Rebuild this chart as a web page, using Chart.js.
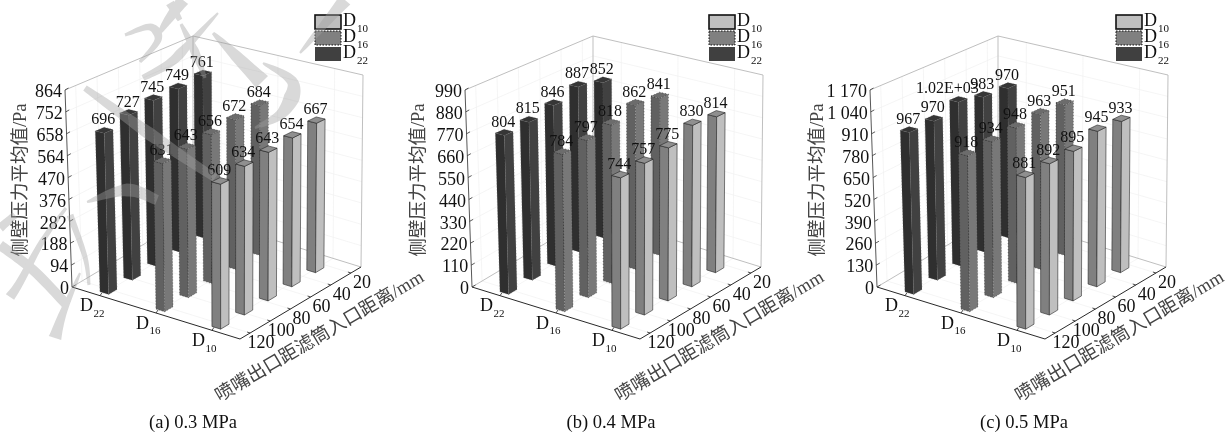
<!DOCTYPE html>
<html><head><meta charset="utf-8">
<script src="https://cdn.jsdelivr.net/npm/chart.js@4"></script>
<style>
html,body{margin:0;padding:0;background:#fff;width:1226px;height:434px;overflow:hidden}
canvas{position:absolute;left:0;top:0}
</style></head><body>
<canvas id="a" width="1226" height="434"></canvas>
<canvas id="b" width="1226" height="434"></canvas>
<canvas id="c" width="1226" height="434"></canvas>
<script>
// ---------- data ----------
const seriesNames = ['D10', 'D16', 'D22'];
const barColumns = [120, 100, 80, 60, 40];
const distanceTicks = ['120', '100', '80', '60', '40', '20'];
const rowTicks = ['22', '16', '10'];

const a_D10 = [609, 634, 643, 654, 667];
const a_D16 = [631, 643, 656, 672, 684];
const a_D22 = [696, 727, 745, 749, 761];
const a_ticks = [0, 94, 188, 282, 376, 470, 564, 658, 752, 846];
const a_tickLabels = ['0', '94', '188', '282', '376', '470', '564', '658', '752', '864'];

const b_D10 = [744, 757, 775, 830, 814];
const b_D16 = [784, 797, 818, 862, 841];
const b_D22 = [804, 815, 846, 887, 852];
const b_ticks = [0, 110, 220, 330, 440, 550, 660, 770, 880, 990];
const b_tickLabels = ['0', '110', '220', '330', '440', '550', '660', '770', '880', '990'];

const c_D10 = [881, 892, 895, 945, 933];
const c_D16 = [918, 934, 948, 963, 951];
const c_D22 = [967, 970, 1020, 983, 970];
const c_labelOverride = {1020: {text: '1.02E+03', dx: -10}};
const c_ticks = [0, 130, 260, 390, 520, 650, 780, 910, 1040, 1170];
const c_tickLabels = ['0', '130', '260', '390', '520', '650', '780', '910', '1 040', '1 170'];

const yTitle = '侧壁压力平均值/Pa';
const xTitle = '喷嘴出口距滤筒入口距离/mm';

// ---------- scene configuration ----------
const SERIF = '"Liberation Serif","Noto Sans CJK SC"';
const CORNERS = { // [floor, ceiling] of the 3D box, for panel (a)
  L: [[72, 287], [65, 90]],
  F: [[240, 339], [241, 136]],
  R: [[361, 267], [363, 75]],
  B: [[193, 215], [193, 36]]
};
const BAR_DROP = {L: 2, F: 0, R: 3, B: 5}; // perspective correction of bar tops
const ROW_U = {D22: 1 / 6, D16: 1 / 2, D10: 5 / 6};
const COL_V0 = 0.07, COL_DV = 0.196, BAR_DU = 0.052, BAR_DV = 0.069;
const STYLE = {
  D10: {left: '#808080', right: '#bfbfbf', top: '#8f8f8f', edge: 'rgba(30,30,30,.8)', dash: [], legend: '#bfbfbf', lw: 1.6, elw: .7},
  D16: {left: '#616161', right: '#787878', top: '#6c6c6c', edge: 'rgba(20,20,20,.75)', dash: [1, 2], legend: '#808080', lw: 1, elw: .6},
  D22: {left: '#2f2f2f', right: '#414141', top: '#363636', edge: 'rgba(90,90,90,.7)', dash: [1, 2], legend: '#404040', lw: 0, elw: .6}
};
const WATERMARK = [
  [[[170, 3], [180, 20]], 9, 5],
  [[[183, 0], [168, 20], [160, 32]], 13, 4],
  [[[125, 35], [150, 27], [158, 40], [140, 62]], 3, 3, 9],
  [[[218, 13], [190, 43], [170, 63], [143, 78]], 2, 6, 10],
  [[[181, 24], [195, 52], [205, 78]], 3, 3, 9],
  [[[85, 88], [130, 120], [170, 148], [215, 178]], 6, 8, 13],
  [[[213, 33], [235, 55], [262, 82]], 3, 17, 11],
  [[[263, 63], [293, 83], [283, 112], [255, 128]], 2, 2, 16],
  [[[345, 0], [300, 53]], 14, 2],
  [[[87, 202], [127, 190], [157, 200]], 2, 10, 13],
  [[[0, 245], [33, 270], [67, 305]], 10, 10],
  [[[0, 228], [15, 215]], 9, 7],
  [[[70, 215], [85, 257], [89, 285]], 7, 3],
  [[[66, 208], [43, 240], [20, 282], [10, 297]], 3, 10, 7],
  [[[80, 273], [63, 313], [55, 338]], 2, 13]
];

function lerp(p, q, t) { return [p[0] + (q[0] - p[0]) * t, p[1] + (q[1] - p[1]) * t]; }
function num(a, b, t) { return a + (b - a) * t; }
function project(u, v, w) {
  const floor = lerp(lerp(CORNERS.L[0], CORNERS.F[0], u), lerp(CORNERS.B[0], CORNERS.R[0], u), v);
  const ceil = lerp(lerp(CORNERS.L[1], CORNERS.F[1], u), lerp(CORNERS.B[1], CORNERS.R[1], u), v);
  return lerp(floor, ceil, w);
}
function barPoint(u, v, w) {
  const p = project(u, v, w);
  const d = num(num(BAR_DROP.L, BAR_DROP.F, u), num(BAR_DROP.B, BAR_DROP.R, u), v);
  return [p[0], p[1] + d * w];
}

function face(ctx, pts, fill, st) {
  ctx.beginPath();
  pts.forEach((p, i) => i ? ctx.lineTo(p[0], p[1]) : ctx.moveTo(p[0], p[1]));
  ctx.closePath();
  ctx.fillStyle = fill;
  ctx.fill();
  ctx.strokeStyle = st.edge;
  ctx.lineWidth = st.elw;
  ctx.setLineDash(st.dash);
  ctx.stroke();
  ctx.setLineDash([]);
}

function seg(ctx, p, q, color, lw) {
  ctx.beginPath();
  ctx.moveTo(p[0], p[1]);
  ctx.lineTo(q[0], q[1]);
  ctx.strokeStyle = color;
  ctx.lineWidth = lw;
  ctx.stroke();
}

function drawSub(ctx, x, y, main, sub, size, subSize, dx, dy) {
  ctx.textAlign = 'left';
  ctx.textBaseline = 'middle';
  ctx.fillStyle = '#111';
  ctx.font = size + 'px ' + SERIF;
  ctx.fillText(main, x, y);
  ctx.font = subSize + 'px ' + SERIF;
  ctx.fillText(sub, x + dx, y + dy);
}

function catmull(pts, i, t) {
  const p0 = pts[Math.max(i - 1, 0)], p1 = pts[i], p2 = pts[i + 1], p3 = pts[Math.min(i + 2, pts.length - 1)];
  const f = k => 0.5 * (2 * p1[k] + (p2[k] - p0[k]) * t + (2 * p0[k] - 5 * p1[k] + 4 * p2[k] - p3[k]) * t * t + (3 * p1[k] - p0[k] - 3 * p2[k] + p3[k]) * t * t * t);
  return [f(0), f(1)];
}

function drawWatermark(ctx) {
  const off = document.createElement('canvas');
  off.width = 1226; off.height = 434;
  const o = off.getContext('2d');
  o.fillStyle = '#a0a0a0';
  WATERMARK.forEach(s => {
    const pts = s[0], w0 = s[1], wEnd = s[2], wMid = s.length === 4 ? s[3] : (s[1] + s[2]) / 2;
    const n = pts.length;
    const left = [], right = [];
    const samples = [];
    for (let i = 0; i < n - 1; i++) {
      for (let k = 0; k < 12; k++) samples.push(catmull(pts, i, k / 12));
    }
    samples.push(pts[n - 1]);
    samples.forEach((p, i) => {
      const a = samples[Math.max(i - 1, 0)], b = samples[Math.min(i + 1, samples.length - 1)];
      const dx = b[0] - a[0], dy = b[1] - a[1], L = Math.hypot(dx, dy) || 1;
      const t = i / (samples.length - 1);
      const w = (t < .5 ? w0 + (wMid - w0) * t * 2 : wMid + (wEnd - wMid) * (t - .5) * 2) / 2;
      left.push([p[0] - dy / L * w, p[1] + dx / L * w]);
      right.push([p[0] + dy / L * w, p[1] - dx / L * w]);
    });
    o.beginPath();
    left.concat(right.reverse()).forEach((p, i) => i ? o.lineTo(p[0], p[1]) : o.moveTo(p[0], p[1]));
    o.closePath();
    o.fill();
  });
  ctx.save();
  ctx.globalAlpha = 0.4;
  ctx.drawImage(off, 0, 0);
  ctx.restore();
}

const scene3d = {
  id: 'scene3d',
  afterDatasetsDraw(chart, args, opts) {
    const ctx = chart.ctx, vs = chart.scales.y;
    const toW = val => (val - vs.min) / (vs.max - vs.min);
    ctx.save();
    ctx.translate(opts.shift, 0);
    const P = project;

    // back walls and grid
    const faint = '#f1f1f1', box = '#b8b8b8';
    opts.ticks.forEach(t => {
      const w = toW(t);
      if (w > 0 && w < 1) {
        seg(ctx, P(0, 0, w), P(0, 1, w), faint, 0.7);
        seg(ctx, P(0, 1, w), P(1, 1, w), faint, 0.7);
      }
    });
    distanceTicks.forEach((_, i) => {
      const v = (i + .5) / distanceTicks.length;
      seg(ctx, P(0, v, 0), P(1, v, 0), faint, 0.7);
      seg(ctx, P(0, v, 0), P(0, v, 1), faint, 0.7);
    });
    rowTicks.forEach((_, i) => {
      const u = (i + .5) / rowTicks.length;
      seg(ctx, P(u, 0, 0), P(u, 1, 0), faint, 0.7);
      seg(ctx, P(u, 1, 0), P(u, 1, 1), faint, 0.7);
    });
    seg(ctx, P(0, 0, 1), P(0, 1, 1), box, 0.9);
    seg(ctx, P(0, 1, 1), P(1, 1, 1), box, 0.9);
    seg(ctx, P(0, 1, 0), P(0, 1, 1), box, 0.9);
    seg(ctx, P(1, 1, 0), P(1, 1, 1), box, 0.9);
    seg(ctx, P(0, 0, 0), P(0, 1, 0), box, 0.9);
    seg(ctx, P(0, 1, 0), P(1, 1, 0), box, 0.9);

    // axes
    seg(ctx, P(0, 0, 0), P(0, 0, 1), '#444', 0.9);
    seg(ctx, P(0, 0, 0), P(1, 0, 0), '#111', 0.9);
    seg(ctx, P(1, 0, 0), P(1, 1, 0), '#111', 0.9);

    // value axis ticks and labels
    ctx.font = '18px ' + SERIF;
    ctx.textAlign = 'right';
    ctx.textBaseline = 'middle';
    opts.ticks.forEach((t, i) => {
      const p = P(0, 0, toW(t));
      seg(ctx, p, [p[0] + 3.5, p[1] - 2], '#333', 0.8);
      ctx.fillStyle = '#111';
      ctx.fillText(opts.tickLabels[i], p[0] - 3, p[1] + 2.5);
    });

    // row axis
    rowTicks.forEach((r, i) => {
      const p = P((i + .5) / rowTicks.length, 0, 0);
      seg(ctx, p, [p[0] + 2, p[1] - 3], '#222', 0.8);
      drawSub(ctx, p[0] - 20, p[1] + 11, 'D', r, 18, 11, 13.5, 7.5);
    });

    // distance axis
    ctx.font = '18px ' + SERIF;
    ctx.textBaseline = 'middle';
    distanceTicks.forEach((d, i) => {
      const p = P(1, (i + .5) / distanceTicks.length, 0);
      seg(ctx, p, [p[0] - 3, p[1] - 1], '#222', 0.8);
      ctx.textAlign = 'center';
      ctx.fillStyle = '#111';
      ctx.fillText(d, p[0] + 11, p[1] + 10);
    });

    // bars, painted back to front
    const items = [];
    chart.data.datasets.forEach((ds, di) => {
      const meta = chart.getDatasetMeta(di);
      meta.data.forEach((_, i) => {
        const val = meta.controller.getParsed(i).y;
        const u = ROW_U[ds.label], v = COL_V0 + COL_DV * i;
        items.push({name: ds.label, u, v, val, depth: u - v});
      });
    });
    items.sort((p, q) => p.depth - q.depth);
    const Q = barPoint;
    items.forEach(b => {
      const st = STYLE[b.name], w = toW(b.val);
      const u0 = b.u - BAR_DU / 2, u1 = b.u + BAR_DU / 2, v0 = b.v - BAR_DV / 2, v1 = b.v + BAR_DV / 2;
      face(ctx, [Q(u0, v0, 0), Q(u1, v0, 0), Q(u1, v0, w), Q(u0, v0, w)], st.left, st);
      face(ctx, [Q(u1, v0, 0), Q(u1, v1, 0), Q(u1, v1, w), Q(u1, v0, w)], st.right, st);
      face(ctx, [Q(u0, v0, w), Q(u1, v0, w), Q(u1, v1, w), Q(u0, v1, w)], st.top, st);
    });

    // value labels
    ctx.font = '16px ' + SERIF;
    ctx.textAlign = 'center';
    ctx.textBaseline = 'middle';
    ctx.fillStyle = '#111';
    items.forEach(b => {
      const p = Q(b.u, b.v, toW(b.val));
      const o = opts.labelOverride && opts.labelOverride[b.val];
      ctx.fillText(o ? o.text : String(b.val), p[0] - 1 + (o ? o.dx : 0), p[1] - 10);
    });

    // legend
    const lx = opts.legendX;
    seriesNames.forEach((n, i) => {
      const st = STYLE[n], y = 15 + i * 16;
      ctx.fillStyle = st.legend;
      ctx.fillRect(lx, y, 26, 14);
      if (st.lw) {
        ctx.strokeStyle = '#111';
        ctx.lineWidth = st.lw;
        ctx.setLineDash(n === 'D16' ? [1.5, 1.5] : []);
        ctx.strokeRect(lx, y, 26, 14);
        ctx.setLineDash([]);
      }
      drawSub(ctx, lx + 28, y + 6, n[0], n.slice(1), 18, 11, 14, 8);
    });

    // axis titles
    ctx.fillStyle = '#444';
    ctx.textAlign = 'center';
    ctx.textBaseline = 'middle';
    ctx.font = '18.5px ' + SERIF;
    ctx.save();
    ctx.translate(opts.yTitleX, 180);
    ctx.rotate(-Math.PI / 2);
    ctx.fillText(yTitle, 0, 0);
    ctx.restore();
    ctx.save();
    ctx.translate(opts.xTitleX, 337);
    ctx.rotate(-30.6 * Math.PI / 180);
    ctx.font = '18.6px ' + SERIF;
    ctx.fillText(xTitle, 0, 0);
    ctx.restore();
    ctx.restore();

    // caption
    ctx.font = '18.5px ' + SERIF;
    ctx.fillStyle = '#111';
    ctx.textAlign = 'center';
    ctx.textBaseline = 'middle';
    ctx.fillText(opts.caption, opts.captionX, 423);

    if (opts.watermark) drawWatermark(ctx);
  }
};

function makeChart(id, d10, d16, d22, ticks, tickLabels, extra) {
  const clear = 'rgba(0,0,0,0)';
  return new Chart(document.getElementById(id), {
    type: 'bar',
    data: {
      labels: barColumns,
      datasets: [
        {label: seriesNames[0], data: d10, backgroundColor: clear},
        {label: seriesNames[1], data: d16, backgroundColor: clear},
        {label: seriesNames[2], data: d22, backgroundColor: clear}
      ]
    },
    options: {
      responsive: false,
      animation: false,
      events: [],
      scales: {
        x: {display: false},
        y: {
          display: false,
          min: ticks[0],
          max: ticks[ticks.length - 1],
          afterBuildTicks: s => { s.ticks = ticks.map(value => ({value})); }
        }
      },
      plugins: {
        legend: {display: false},
        tooltip: {enabled: false},
        title: {display: false},
        scene3d: Object.assign({ticks, tickLabels}, extra)
      }
    },
    plugins: [scene3d]
  });
}

makeChart('a', a_D10, a_D16, a_D22, a_ticks, a_tickLabels,
  {shift: 0, legendX: 315, yTitleX: 21, xTitleX: 320, caption: '(a) 0.3 MPa', captionX: 193, watermark: true});
makeChart('b', b_D10, b_D16, b_D22, b_ticks, b_tickLabels,
  {shift: 400, legendX: 309, yTitleX: 19, xTitleX: 320, caption: '(b) 0.4 MPa', captionX: 611});
makeChart('c', c_D10, c_D16, c_D22, c_ticks, c_tickLabels,
  {shift: 805, legendX: 311, yTitleX: 13, xTitleX: 315, caption: '(c) 0.5 MPa', captionX: 1024, labelOverride: c_labelOverride});
</script>
</body></html>
